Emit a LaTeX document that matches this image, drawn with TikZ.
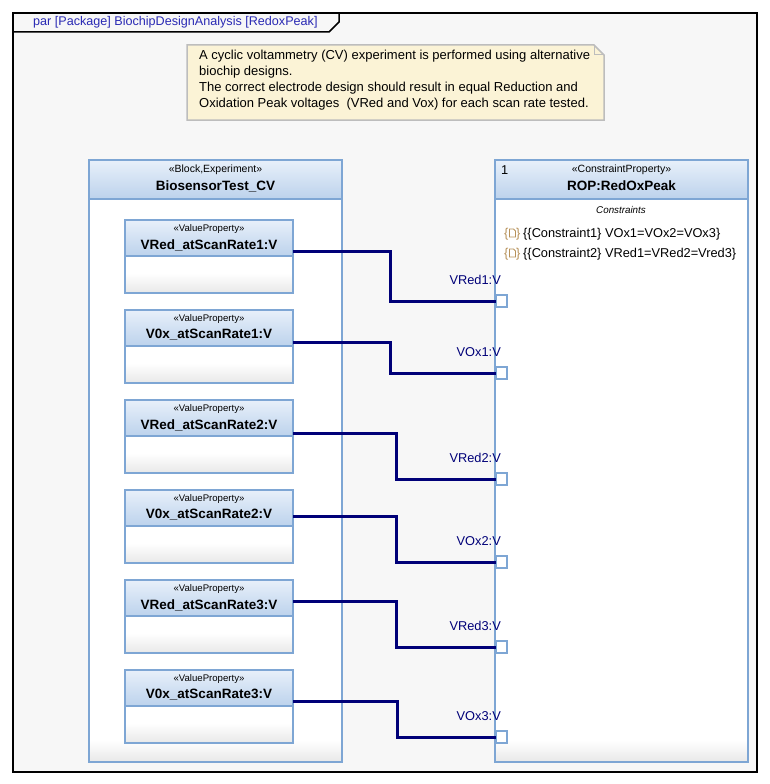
\documentclass[tikz,border=0pt]{standalone}
\usepackage{fontspec}
\setmainfont{Liberation Sans}
\usetikzlibrary{calc}
\definecolor{umlblue}{HTML}{7EA6D4}
\definecolor{hdtop}{HTML}{E8F0FA}
\definecolor{hdbot}{HTML}{BCD2EC}
\definecolor{notefill}{HTML}{FBF3D6}
\definecolor{notedraw}{HTML}{BDBDBD}
\definecolor{wirecol}{HTML}{000078}
\definecolor{titleblue}{HTML}{2A2AB4}
\definecolor{framebg}{HTML}{F7F7F7}
\definecolor{icontan}{HTML}{B8925A}
\newcommand{\stereo}[1]{{\fontsize{10.5}{12}\selectfont «#1»}}
\newcommand{\bname}[1]{{\fontsize{13.5}{15}\selectfont\bfseries #1}}

\begin{document}
\begin{tikzpicture}[x=1pt,y=-1pt,font={\fontsize{12.8}{14}\selectfont},
  blockbody/.style={draw=umlblue,line width=1.5pt,fill=white,rectangle,anchor=north west,
    inner sep=0pt,outer sep=0pt},
  blockhead/.style={draw=umlblue,line width=1.5pt,rectangle,anchor=north west,
    inner sep=0pt,outer sep=0pt,top color=hdtop,bottom color=hdbot},
  port/.style={draw=umlblue,line width=1.2pt,fill=white,rectangle,inner sep=0pt,outer sep=0pt,
    minimum width=11pt,minimum height=12pt},
  wire/.style={draw=wirecol,line width=3pt},
  portlbl/.style={text=wirecol,inner sep=0pt,anchor=base east}]
\useasboundingbox (0,0) rectangle (770,784);

% diagram frame with its tab
\draw[line width=2pt,fill=framebg] (13,13) rectangle (757,772);
\draw[line width=1.5pt] (13,32) -- (329,32) -- (339,22) -- (339,13);
\node[anchor=west,text=titleblue,inner sep=0pt,font={\fontsize{12.6}{14}\selectfont}] (title)
  at (33,22) {par [Package] BiochipDesignAnalysis [RedoxPeak]};

% comment note
\draw[notedraw,line width=1.5pt,fill=notefill]
  (187,45) -- (594,45) -- (604,55) -- (604,120) -- (187,120) -- cycle;
\draw[notedraw,line width=1pt] (594,45) -- (594,55) -- (604,55);
\node[anchor=north west,align=left,inner sep=0pt,font={\fontsize{13}{16}\selectfont}] (note)
  at (199,50) {A cyclic voltammetry (CV) experiment is performed using alternative\\
  biochip designs.\\
  The correct electrode design should result in equal Reduction and\\
  Oxidation Peak voltages\ \ (VRed and Vox) for each scan rate tested.};

% block BiosensorTest_CV and constraint property ROP
\foreach \b/\bx in {exp/89,rop/495}{
  \node[blockbody,minimum width=253pt,minimum height=602pt] (\b) at (\bx,160) {};
  \shade[top color=white,bottom color=black!9]
    ($(\b.south west)+(1,0)$) rectangle ($(\b.south east)+(-1,-22)$);
  \draw[umlblue,line width=1.5pt] (\b.south west) rectangle (\b.north east);
  \node[blockhead,minimum width=253pt,minimum height=39pt] (\b h) at (\bx,160) {};
}
\node (exps) at ([yshift=-10pt]exp.north) {\stereo{Block,Experiment}};
\node (expn) at ([yshift=-26pt]exp.north) {\bname{BiosensorTest\_CV}};
\node (rops) at ([yshift=-10pt]rop.north) {\stereo{ConstraintProperty}};
\node (ropn) at ([yshift=-26pt]rop.north) {\bname{ROP:RedOxPeak}};
\node[anchor=west,inner sep=0pt] (mult) at (501,170) {1};
\node (cons) at (621,210) {\fontsize{9.8}{11}\selectfont\itshape Constraints};

% constraints with their icon
\foreach \j/\cy/\ct in {1/234/{\{\{Constraint1\} VOx1=VOx2=VOx3\}},
                        2/254/{\{\{Constraint2\} VRed1=VRed2=Vred3\}}}{
  \node[anchor=west,inner sep=0pt] (c\j) at (523,\cy) {\ct};
  \node[anchor=west,inner sep=0pt,text=icontan] (cb\j) at (504,\cy) {\{};
  \node[anchor=west,inner sep=0pt,text=icontan] (ce\j) at (516,\cy) {\}};
  \draw[icontan,line width=0.8pt] (509.5,{\cy-5}) -- (513.5,{\cy-5}) -- (515.5,{\cy-3})
    -- (515.5,{\cy+3}) -- (509.5,{\cy+3}) -- cycle;
}

% value properties
\foreach \i/\nm in {1/VRed\_atScanRate1:V,2/V0x\_atScanRate1:V,3/VRed\_atScanRate2:V,
                    4/V0x\_atScanRate2:V,5/VRed\_atScanRate3:V,6/V0x\_atScanRate3:V}{
  \node[blockbody,minimum width=168pt,minimum height=73pt] (vp\i) at (125,{220+90*(\i-1)}) {};
  \shade[top color=white,bottom color=black!9]
    ($(vp\i.south west)+(1,0)$) rectangle ($(vp\i.south east)+(-1,-20)$);
  \draw[umlblue,line width=1.5pt] (vp\i.south west) rectangle (vp\i.north east);
  \node[blockhead,minimum width=168pt,minimum height=36pt] (vh\i) at (vp\i.north west) {};
  \node (vs\i) at ([yshift=-9pt]vp\i.north) {\fontsize{9.6}{11}\selectfont «ValueProperty»};
  \node (vn\i) at ([yshift=-25pt]vp\i.north) {\bname{\nm}};
}

% ports of ROP with labels
\foreach \i/\py/\lbl in {1/301/VRed1:V,2/373/VOx1:V,3/479/VRed2:V,
                         4/562/VOx2:V,5/647/VRed3:V,6/737/VOx3:V}{
  \node[port] (p\i) at (501.5,\py) {};
  \node[portlbl] (pl\i) at ([xshift=5pt,yshift=11pt]p\i.north west) {\lbl};
}

% binding connectors
\foreach \i/\d/\vx in {1/31/390,2/32/390,3/33/396,4/26/396,5/21/396,6/31/397}
  \draw[wire] ([yshift=-\d pt]vp\i.north east) -- ++({\vx-293},0) |- (p\i.west);

\end{tikzpicture}
\end{document}
